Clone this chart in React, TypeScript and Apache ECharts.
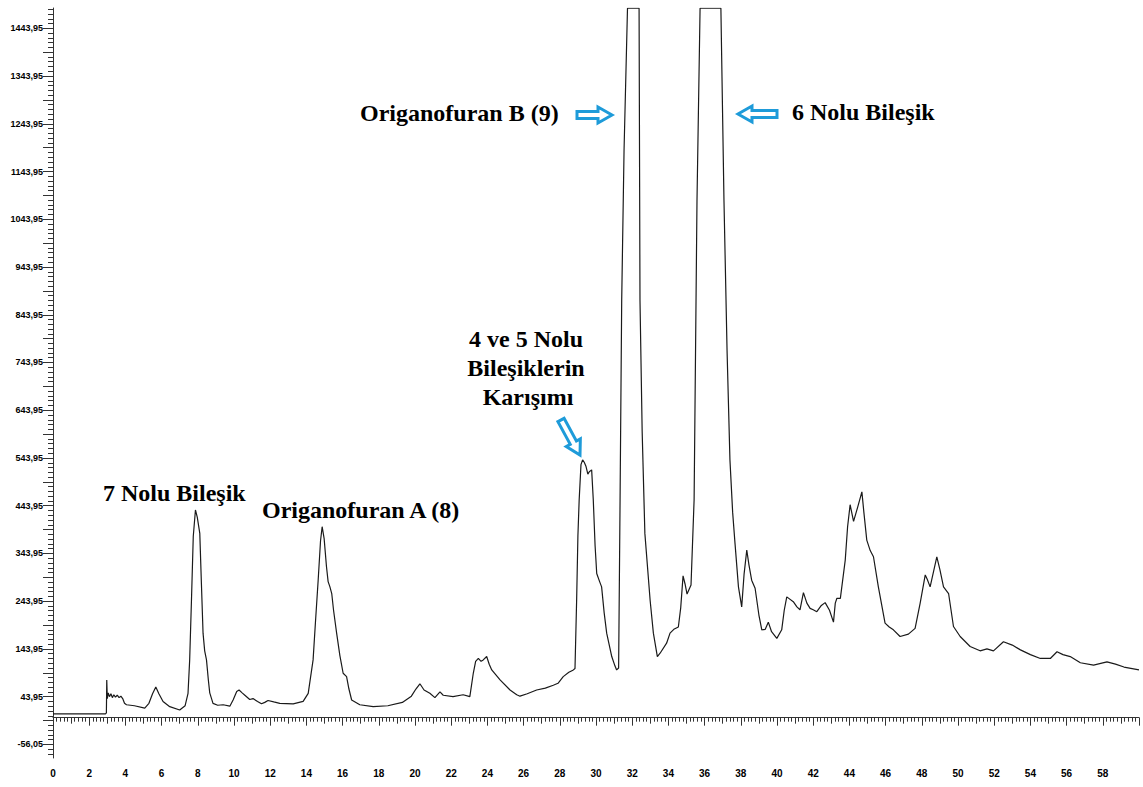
import React, { useEffect, useRef } from "react";
import * as echarts from "echarts";

// Retention time (min)
const times: number[] = [
  0, 2.9, 2.95, 2.97, 3.0, 3.05, 3.12, 3.2, 3.28, 3.36, 3.45, 3.55, 3.65, 3.75, 3.85, 3.95,
  4.06, 4.5, 5.07, 5.3, 5.5, 5.68, 5.85, 6.08, 6.45, 7.0, 7.3, 7.46, 7.55, 7.65, 7.75, 7.87,
  7.97, 8.11, 8.2, 8.29, 8.38, 8.48, 8.58, 8.66, 8.84, 9.1, 9.4, 9.77, 9.95, 10.15, 10.28,
  10.45, 10.6, 10.87, 11.05, 11.3, 11.52, 11.7, 11.88, 12.2, 12.53, 13.27, 13.82, 14.1, 14.37,
  14.5, 14.65, 14.78, 14.87, 14.98, 15.11, 15.2, 15.3, 15.4, 15.5, 15.67, 15.85, 16.03, 16.22,
  16.35, 16.5, 16.95, 17.69, 18.5, 19.3, 19.8, 20.05, 20.27, 20.5, 20.82, 21.1, 21.38, 21.56,
  22.1, 22.66, 23.03, 23.22, 23.35, 23.5, 23.65, 23.77, 23.96, 24.1, 24.24, 24.7, 25.25, 25.62,
  25.8, 26.2, 26.72, 27.2, 27.64, 27.9, 28.19, 28.5, 28.75, 28.84, 28.93, 29.0, 29.07, 29.17,
  29.26, 29.35, 29.45, 29.55, 29.63, 29.76, 29.85, 29.95, 30.04, 30.2, 30.31, 30.45, 30.59,
  30.87, 31.05, 31.14, 31.25, 31.33, 31.42, 31.55, 31.74, 32.38, 32.43, 32.55, 32.7, 32.99,
  33.17, 33.39, 33.54, 33.9, 34.09, 34.3, 34.55, 34.68, 34.81, 34.92, 35.03, 35.25, 35.42,
  35.58, 35.75, 36.9, 37.07, 37.24, 37.4, 37.55, 37.68, 37.87, 38.05, 38.18, 38.33, 38.45,
  38.6, 38.79, 39.0, 39.16, 39.35, 39.52, 39.7, 39.99, 40.26, 40.4, 40.54, 40.9, 41.1, 41.27,
  41.46, 41.65, 41.83, 42.0, 42.2, 42.45, 42.66, 42.9, 43.12, 43.22, 43.31, 43.5, 43.77, 43.9,
  44.04, 44.23, 44.45, 44.69, 44.8, 44.96, 45.15, 45.33, 45.6, 45.97, 46.2, 46.43, 46.8, 47.26,
  47.63, 47.91, 48.19, 48.3, 48.46, 48.83, 49.0, 49.2, 49.48, 49.75, 50.12, 50.67, 51.22, 51.6,
  51.96, 52.51, 53.0, 53.45, 54.0, 54.55, 55.1, 55.47, 55.8, 56.2, 56.76, 57.49, 58.23, 58.7,
  59.17, 60.0,
];

// Detector signal
const signal: number[] = [
  8, 8, 10, 79, 40, 52, 44, 50, 42, 48, 43, 47, 42, 45, 40, 30,
  27, 25, 20, 30, 50, 64, 50, 34, 23, 16, 25, 51, 120, 246, 380, 435,
  420, 386, 280, 177, 140, 121, 80, 52, 30, 26, 27, 24, 37, 55, 58,
  52, 47, 38, 40, 34, 29, 32, 36, 33, 30, 29, 34, 51, 121,
  200, 288, 370, 400, 375, 316, 285, 274, 260, 225, 177, 130, 93, 86,
  60, 37, 27, 23, 25, 32, 45, 60, 71, 58, 51, 42, 54, 47,
  44, 48, 44, 93, 118, 124, 118, 121, 128, 112, 100, 79, 58, 48,
  45, 50, 58, 62, 68, 72, 86, 95, 100, 103, 246, 380, 456, 530,
  540, 535, 526, 510, 515, 519, 456, 360, 302, 285, 274, 220, 177,
  128, 108, 100, 104, 456, 875, 1189, 1486, 1486, 875, 600, 386, 246,
  177, 128, 135, 156, 177, 185, 190, 230, 297, 280, 259, 278, 456,
  1084, 1486, 1486, 1084, 770, 540, 430, 365, 274, 232, 300, 351, 320,
  288, 271, 215, 184, 185, 200, 180, 166, 184, 225, 253, 243, 232, 226,
  262, 240, 229, 226, 222, 235, 241, 225, 200, 240, 250, 250, 330, 400,
  446, 411, 440, 473, 430, 372, 350, 337, 274, 198, 190, 184, 170, 175,
  187, 240, 299, 290, 274, 337, 310, 274, 260, 191, 170, 149, 140, 144,
  140, 159, 152, 142, 132, 124, 124, 138, 132, 128, 115, 110, 117, 112,
  106, 100,
];

// Axis ranges and tick labels
const yMin = -84.5;
const yMax = 1486.5;
const yLabelValues: number[] = [
  -56.05, 43.95, 143.95, 243.95, 343.95, 443.95, 543.95, 643.95, 743.95, 843.95,
  943.95, 1043.95, 1143.95, 1243.95, 1343.95, 1443.95,
];
const xMin = 0;
const xMax = 60;
const xInterval = 2;

const yMidTicks: number[] = [];
for (let v = -56.05; v <= 1443.96; v += 50) yMidTicks.push(Math.round(v * 100) / 100);
const yMinorTicks: number[] = [];
for (let v = -76.05; v <= 1483.96; v += 10) yMinorTicks.push(Math.round(v * 100) / 100);
const xOddTicks: number[] = [];
for (let v = 1; v < 60; v += 2) xOddTicks.push(v);

const BLUE = "#1E9BD9";

function arrowPoints(tx: number, ty: number, hx: number, hy: number, sw: number, hw: number, hl: number) {
  const dx = hx - tx;
  const dy = hy - ty;
  const L = Math.sqrt(dx * dx + dy * dy);
  const ux = dx / L;
  const uy = dy / L;
  const nx = -uy;
  const ny = ux;
  const local: [number, number][] = [
    [0, -sw], [L - hl, -sw], [L - hl, -hw], [L, 0], [L - hl, hw], [L - hl, sw], [0, sw],
  ];
  return local.map(([a, b]) => [tx + ux * a + nx * b, ty + uy * a + ny * b]);
}

function arrow(tx: number, ty: number, hx: number, hy: number) {
  return {
    type: "polygon",
    shape: { points: arrowPoints(tx, ty, hx, hy, 3.5, 8, 14) },
    style: { fill: "#ffffff", stroke: BLUE, lineWidth: 3, lineJoin: "miter" },
    z: 100,
  };
}

const serif = "bold 24px 'Liberation Serif', 'Times New Roman', serif";

function label(text: string, x: number, y: number, align: string) {
  return {
    type: "text",
    x,
    y,
    z: 100,
    style: { text, font: serif, fill: "#000", textAlign: align, textVerticalAlign: "middle" },
  };
}

export default function App() {
  const ref = useRef<HTMLDivElement>(null);
  useEffect(() => {
    if (!ref.current) return;
    const chart = echarts.init(ref.current, undefined, { renderer: "svg" });
    const data = times.map((t, i) => [t, signal[i]]);
    const axisColor = "#333";
    const fmt = (v: number) => v.toFixed(2).replace(".", ",");
    chart.setOption({
      animation: false,
      backgroundColor: "#ffffff",
      grid: { left: 53, right: 4, top: 8, bottom: 29, containLabel: false },
      xAxis: [
        {
          type: "value",
          min: xMin,
          max: xMax,
          interval: xInterval,
          axisLine: { show: true, lineStyle: { color: axisColor, width: 1 } },
          axisTick: { show: true, length: 8, lineStyle: { color: axisColor } },
          minorTick: { show: true, splitNumber: 10, length: 4, lineStyle: { color: axisColor } },
          axisLabel: {
            show: true,
            showMaxLabel: false,
            margin: 10,
            fontSize: 10,
            fontWeight: "bold",
            fontFamily: "'Liberation Sans', Arial, sans-serif",
            color: "#000",
          },
          splitLine: { show: false },
          minorSplitLine: { show: false },
        },
        {
          type: "value",
          min: xMin,
          max: xMax,
          position: "bottom",
          axisLine: { show: false },
          axisTick: { show: true, length: 6, customValues: xOddTicks, lineStyle: { color: axisColor } },
          axisLabel: { show: false },
          splitLine: { show: false },
        },
      ],
      yAxis: [
        {
          type: "value",
          min: yMin,
          max: yMax,
          axisLine: { show: true, lineStyle: { color: axisColor, width: 1 } },
          axisTick: { show: true, length: 10, customValues: yMidTicks, lineStyle: { color: axisColor } },
          axisLabel: {
            show: true,
            customValues: yLabelValues,
            formatter: (v: number) => fmt(v),
            margin: 10,
            fontSize: 9,
            fontWeight: "bold",
            fontFamily: "'Liberation Sans', Arial, sans-serif",
            color: "#000",
          },
          splitLine: { show: false },
        },
        {
          type: "value",
          min: yMin,
          max: yMax,
          position: "left",
          axisLine: { show: false },
          axisTick: { show: true, length: 5, customValues: yMinorTicks, lineStyle: { color: axisColor } },
          axisLabel: { show: false },
          splitLine: { show: false },
        },
      ],
      series: [
        {
          type: "line",
          data,
          xAxisIndex: 0,
          yAxisIndex: 0,
          showSymbol: false,
          symbol: "none",
          smooth: false,
          lineStyle: { color: "#1a1a1a", width: 1.2 },
          z: 10,
        },
      ],
      graphic: [
        label("7 Nolu Bileşik", 103, 493, "left"),
        label("Origanofuran A (8)", 262, 510, "left"),
        label("4 ve 5 Nolu", 526, 339, "center"),
        label("Bileşiklerin", 526, 368, "center"),
        label("Karışımı", 528, 397, "center"),
        label("Origanofuran B (9)", 360, 113, "left"),
        label("6 Nolu Bileşik", 792, 112, "left"),
        arrow(577, 115, 612, 115),
        arrow(777, 114, 738, 114),
        arrow(561, 420, 580, 455),
      ],
    });
    return () => chart.dispose();
  }, []);
  return (
    <div
      ref={ref}
      style={{ position: "absolute", left: 0, top: 0, width: 1143, height: 787 }}
    />
  );
}
